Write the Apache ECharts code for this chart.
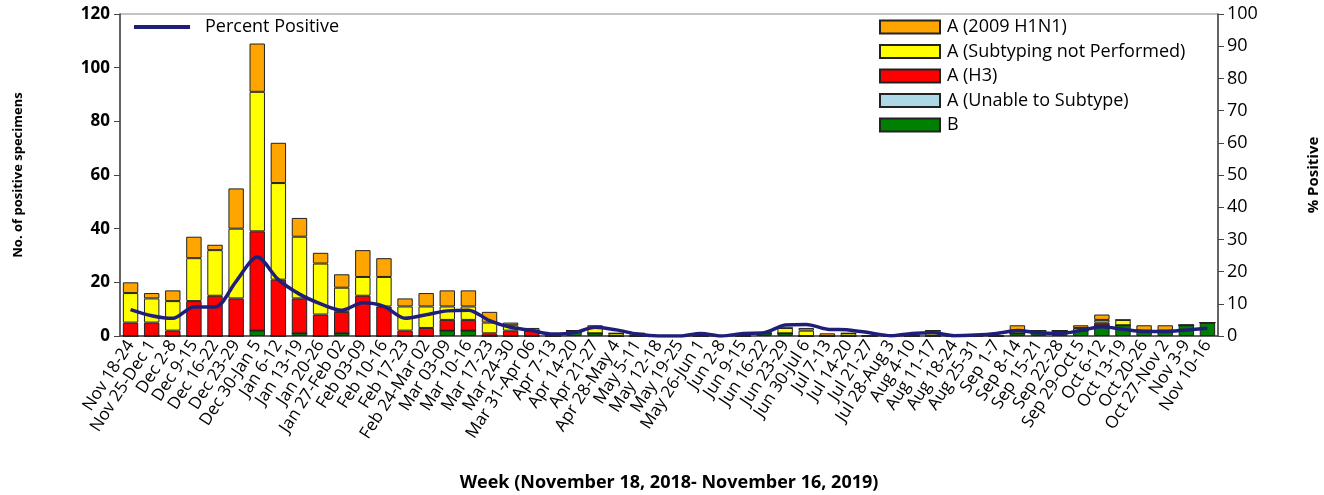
<!DOCTYPE html>
<html>
<head>
<meta charset="utf-8">
<script src="https://cdn.jsdelivr.net/npm/echarts@6/dist/echarts.min.js"></script>
<style>
html,body{margin:0;padding:0;background:#fff;}
#chart{width:1324px;height:495px;}
</style>
</head>
<body>
<div id="chart"></div>
<script>
const weeks = ["Nov 18-24","Nov 25-Dec 1","Dec 2-8","Dec 9-15","Dec 16-22","Dec 23-29","Dec 30-Jan 5","Jan 6-12","Jan 13-19","Jan 20-26","Jan 27-Feb 02","Feb 03-09","Feb 10-16","Feb 17-23","Feb 24-Mar 02","Mar 03-09","Mar 10-16","Mar 17-23","Mar 24-30","Mar 31-Apr 06","Apr 7-13","Apr 14-20","Apr 21-27","Apr 28-May 4","May 5-11","May 12-18","May 19-25","May 26-Jun 1","Jun 2-8","Jun 9-15","Jun 16-22","Jun 23-29","Jun 30-Jul 6","Jul 7-13","Jul 14-20","Jul 21-27","Jul 28-Aug 3","Aug 4-10","Aug 11-17","Aug 18-24","Aug 25-31","Sep 1-7","Sep 8-14","Sep 15-21","Sep 22-28","Sep 29-Oct 5","Oct 6-12","Oct 13-19","Oct 20-26","Oct 27-Nov 2","Nov 3-9","Nov 10-16"];

const fluB =         [0,0,0,0,0,0,2,0,1,0,1,0,0,0,0,2,2,0,0,0,0,2,1,0,0,0,0,0,0,0,1,1,0,0,0,0,0,0,0,0,0,0,1,1,2,2,4,4,2,2,4,5];
const unableSubtype =[0,0,0,0,0,0,0,0,0,0,0,0,0,0,0,0,0,0,0,0,0,0,0,0,0,0,0,0,0,0,0,0,0,0,0,0,0,0,0,0,0,0,0,0,0,0,0,0,0,0,0,0];
const h3 =           [5,5,2,13,15,14,37,21,13,8,8,15,11,2,3,4,4,1,2,2,0,0,0,0,0,0,0,0,0,0,0,0,0,0,0,0,0,0,0,0,0,0,0,0,0,0,1,0,0,0,0,0];
const notPerformed = [11,9,11,16,17,26,52,36,23,19,9,7,11,9,8,5,5,4,2,0,0,0,2,1,1,0,0,0,0,0,0,2,2,0,1,0,0,0,2,0,0,0,1,1,0,1,1,2,0,0,0,0];
const h1n1 =         [4,2,4,8,2,15,18,15,7,4,5,10,7,3,5,6,6,4,1,1,0,0,1,0,0,0,0,0,0,0,0,0,1,1,0,0,0,0,0,0,0,0,2,0,0,1,2,0,2,2,0,0];
const pctPositive =  [8.2,6.3,5.5,9.0,9.0,17,24.5,17.5,13,10,8,10.3,9.2,5.5,6.6,7.8,8,4.8,2.7,1.7,0.6,1.0,2.7,1.9,0.6,0,0,0.8,0,0.8,1.0,3.4,3.6,2.1,1.9,1.0,0.1,0.8,1.0,0.1,0.3,0.8,1.7,1.0,0.8,1.7,2.9,2.1,1.4,1.4,1.9,2.4];

const leftTicks = {min:0, max:120, interval:20};
const rightTicks = {min:0, max:100, interval:10};

const FONT = "'Open Sans', 'Noto Sans', sans-serif";
const border = {borderColor:'#222', borderWidth:1};

function barSeries(name, data, color){
  return {name:name, type:'bar', stack:'total', data:data, barCategoryGap:'27%',
    itemStyle:Object.assign({color:color}, border), emphasis:{disabled:true}};
}

const chart = echarts.init(document.getElementById('chart'), null, {renderer:'canvas'});
chart.setOption({
  animation:false,
  backgroundColor:'#fff',
  textStyle:{fontFamily:FONT},
  grid:{left:120, right:106, top:14, bottom:159, show:true, borderColor:'#888', borderWidth:1,
        containLabel:false, outerBoundsMode:'none'},
  legend:[
    {data:['Percent Positive'], left:129, top:13, itemWidth:56, itemHeight:4, icon:'rect',
     textStyle:{fontSize:18, color:'#000', fontFamily:FONT, padding:[0,0,0,10]}, itemGap:10},
    {data:['A (2009 H1N1)','A (Subtyping not Performed)','A (H3)','A (Unable to Subtype)','B'],
     orient:'vertical', left:874, top:13, itemWidth:60, itemHeight:13, itemGap:6.5, icon:'rect',
     textStyle:{fontSize:18, color:'#000', fontFamily:FONT, lineHeight:18, padding:[0,0,0,2]}}
  ],
  xAxis:{type:'category', data:weeks,
    axisLine:{lineStyle:{color:'#444', width:1.5}}, axisTick:{show:false},
    axisLabel:{rotate:57, interval:0, fontSize:17, color:'#000', fontFamily:FONT, margin:6},
    name:'Week (November 18, 2018- November 16, 2019)', nameLocation:'middle', nameGap:138,
    nameTextStyle:{fontSize:18, fontWeight:'bold', color:'#000', fontFamily:FONT}},
  yAxis:[
    {type:'value', min:leftTicks.min, max:leftTicks.max, interval:leftTicks.interval,
     splitLine:{show:false}, axisLine:{show:true, lineStyle:{color:'#444', width:1.5}},
     axisTick:{show:true, length:6, lineStyle:{color:'#444'}},
     axisLabel:{fontSize:17, fontWeight:'bold', color:'#000', margin:10, fontFamily:FONT},
     name:'No. of positive specimens', nameLocation:'middle', nameRotate:90, nameGap:95,
     nameTextStyle:{fontSize:13, fontWeight:'bold', color:'#000', fontFamily:FONT}},
    {type:'value', position:'right', min:rightTicks.min, max:rightTicks.max, interval:rightTicks.interval,
     splitLine:{show:false}, axisLine:{show:true, lineStyle:{color:'#444', width:1.5}},
     axisTick:{show:true, length:6, lineStyle:{color:'#444'}},
     axisLabel:{fontSize:18, color:'#000', margin:9, fontFamily:FONT},
     name:'% Positive', nameLocation:'middle', nameRotate:90, nameGap:88,
     nameTextStyle:{fontSize:15, fontWeight:'bold', color:'#000', fontFamily:FONT}}
  ],
  series:[
    barSeries('B', fluB, '#008000'),
    barSeries('A (Unable to Subtype)', unableSubtype, '#ADD8E6'),
    barSeries('A (H3)', h3, '#FF0000'),
    barSeries('A (Subtyping not Performed)', notPerformed, '#FFFF00'),
    barSeries('A (2009 H1N1)', h1n1, '#FFA500'),
    {name:'Percent Positive', type:'line', yAxisIndex:1, data:pctPositive, smooth:0.3,
     symbol:'none', lineStyle:{color:'#1F1F7A', width:3.5}, itemStyle:{color:'#1F1F7A'}, z:5}
  ]
});
</script>
</body>
</html>
